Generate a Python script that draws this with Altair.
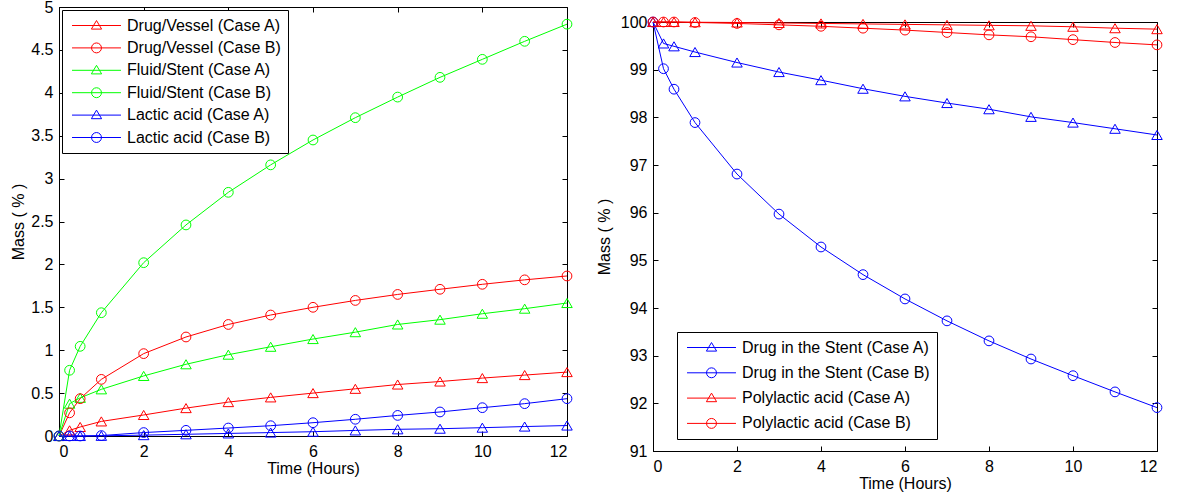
import altair as alt
import pandas as pd

hours = [0, 0.25, 0.5, 1, 2, 3, 4, 5, 6, 7, 8, 9, 10, 11, 12]

# Left panel series (Mass %)
drug_vessel_a = [0, 0.066, 0.105, 0.17, 0.245, 0.325, 0.395, 0.45, 0.5, 0.55, 0.6, 0.635, 0.675, 0.71, 0.745]
drug_vessel_b = [0, 0.27, 0.435, 0.66, 0.96, 1.154, 1.30, 1.41, 1.5, 1.58, 1.65, 1.71, 1.768, 1.82, 1.865]
fluid_stent_a = [0, 0.377, 0.445, 0.544, 0.70, 0.836, 0.948, 1.04, 1.13, 1.21, 1.30, 1.356, 1.425, 1.484, 1.55]
fluid_stent_b = [0, 0.766, 1.045, 1.437, 2.02, 2.46, 2.84, 3.16, 3.45, 3.71, 3.95, 4.18, 4.39, 4.6, 4.8]
lactic_a = [0, 0, 0, 0.002, 0.01, 0.02, 0.03, 0.04, 0.05, 0.065, 0.078, 0.085, 0.097, 0.11, 0.122]
lactic_b = [0, 0, 0, 0.005, 0.04, 0.066, 0.093, 0.12, 0.155, 0.195, 0.24, 0.28, 0.33, 0.377, 0.435]

left_names = ["Drug/Vessel (Case A)", "Drug/Vessel (Case B)", "Fluid/Stent (Case A)",
              "Fluid/Stent (Case B)", "Lactic acid (Case A)", "Lactic acid (Case B)"]
left_series = [drug_vessel_a, drug_vessel_b, fluid_stent_a, fluid_stent_b, lactic_a, lactic_b]
left_colors = ["#ff0000", "#ff0000", "#00ff00", "#00ff00", "#0000ff", "#0000ff"]

# Right panel series (Mass %)
drug_stent_a = [100, 99.55, 99.49, 99.37, 99.15, 98.95, 98.78, 98.6, 98.44, 98.3, 98.17, 98.01, 97.89, 97.76, 97.63]
drug_stent_b = [100, 99.02, 98.59, 97.89, 96.81, 95.97, 95.28, 94.70, 94.19, 93.73, 93.31, 92.93, 92.58, 92.24, 91.91]
poly_a = [100, 100, 100, 99.995, 99.99, 99.98, 99.97, 99.96, 99.95, 99.94, 99.93, 99.92, 99.9, 99.87, 99.85]
poly_b = [100, 100, 100, 99.99, 99.97, 99.94, 99.91, 99.87, 99.83, 99.78, 99.73, 99.69, 99.63, 99.57, 99.52]

right_names = ["Drug in the Stent (Case A)", "Drug in the Stent (Case B)",
               "Polylactic acid (Case A)", "Polylactic acid (Case B)"]
right_series = [drug_stent_a, drug_stent_b, poly_a, poly_b]
right_colors = ["#0000ff", "#0000ff", "#ff0000", "#ff0000"]

FONT = "Liberation Sans"
# legend glyphs: a line segment with the marker in its middle (r = 8 px units)
TRI = "M-3.06,0L3.06,0M0,-0.62L0.64,0.45L-0.64,0.45Z"
CIR = "M-3.06,0L3.06,0M0.62,0A0.62,0.62,0,1,1,-0.62,0A0.62,0.62,0,1,1,0.62,0Z"


def make_df(names, series):
    rows = []
    for name, vals in zip(names, series):
        case = "A" if "Case A" in name else "B"
        for t, v in zip(hours, vals):
            rows.append({"series": name, "case": case, "time": t, "mass": v})
    return pd.DataFrame(rows)


def panel(names, series, colors, ydomain, yvalues, w, h, lx, ly, row_pad, ytitle_pad):
    df = make_df(names, series)
    cscale = alt.Scale(domain=names, range=colors)
    leg = alt.Legend(title=None, orient="none", legendX=lx, legendY=ly, strokeColor="black",
                     fillColor="white", padding=7, symbolSize=256, symbolStrokeWidth=1,
                     symbolOpacity=1, symbolOffset=19, labelFontSize=16, labelFont=FONT,
                     labelColor="black", rowPadding=row_pad, labelOffset=22, cornerRadius=0,
                     labelLimit=400)
    x = alt.X("time:Q", scale=alt.Scale(domain=[0, 12], nice=False),
              axis=alt.Axis(values=list(range(0, 13, 2)), title="Time (Hours)", format="d",
                            grid=True, gridDash=[5, h - 10, 5], gridColor="black", gridOpacity=1,
                            gridWidth=1, ticks=False, labelPadding=7, titlePadding=1))
    y = alt.Y("mass:Q", scale=alt.Scale(domain=ydomain, nice=False, zero=False),
              axis=alt.Axis(values=yvalues, title="Mass ( % )", format="~r",
                            grid=True, gridDash=[5, w - 10, 5], gridColor="black", gridOpacity=1,
                            gridWidth=1, ticks=False, labelPadding=6, titlePadding=ytitle_pad))
    color = alt.Color("series:N", scale=cscale, legend=leg)
    base = alt.Chart(df).encode(x=x, y=y, color=color)
    lines = base.mark_line(strokeWidth=1)
    tris = base.transform_filter("datum.case == 'A'").mark_point(
        shape="triangle-up", filled=False, size=110, opacity=1, strokeWidth=1)
    circs = base.transform_filter("datum.case == 'B'").mark_point(
        shape="circle", filled=False, size=95, opacity=1, strokeWidth=1)
    paths = [TRI if "Case A" in n else CIR for n in names]
    legend_layer = alt.Chart(df).transform_filter("datum.time < 0").mark_point(
        filled=False, opacity=1, strokeWidth=1).encode(
        color=color,
        shape=alt.Shape("series:N", scale=alt.Scale(domain=names, range=paths), legend=leg))
    return alt.layer(lines, tris, circs, legend_layer).properties(width=w, height=h)


left = panel(left_names, left_series, left_colors, [0, 5],
             [0, 0.5, 1, 1.5, 2, 2.5, 3, 3.5, 4, 4.5, 5], 508, 429, 3, 3, 5.4, 4)
right = panel(right_names, right_series, right_colors, [91, 100],
              list(range(91, 101)), 504, 429, 24, 325, 8.3, 8)

spacer = alt.Chart(pd.DataFrame({"a": [0]})).mark_point(opacity=0).properties(
    width=504, height=4, view=alt.ViewBackground(stroke="transparent"))
right_col = alt.vconcat(spacer, right, spacing=0)

chart = alt.hconcat(left, right_col, spacing=20).resolve_scale(
    color="independent", shape="independent"
).properties(
    padding={"left": 10, "top": -2, "right": 5, "bottom": 5}, background="white"
).configure_view(stroke="black", strokeWidth=1).configure_axis(
    labelFont=FONT, titleFont=FONT, labelFontSize=16, titleFontSize=16,
    titleFontWeight="normal", labelColor="black", titleColor="black",
    domainColor="black", domainWidth=1
)

chart.save("out.html", embed_options={"renderer": "svg", "actions": False})
